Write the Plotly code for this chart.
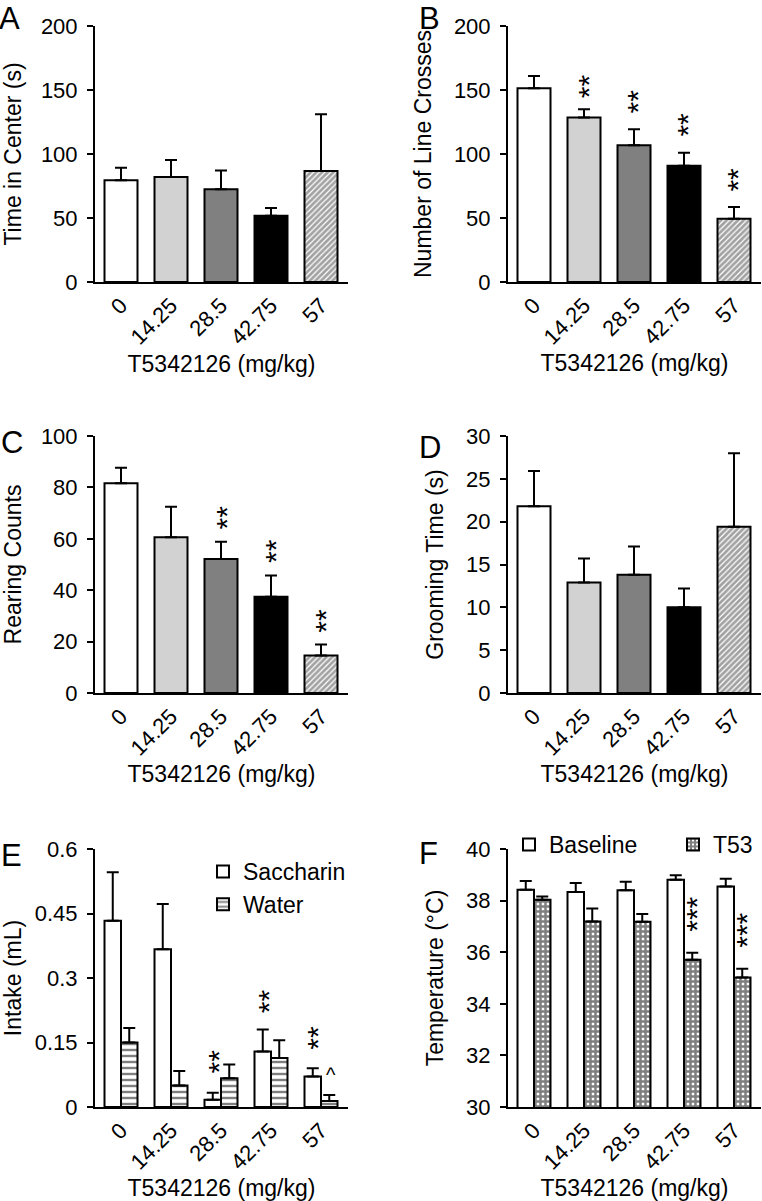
import plotly.graph_objects as go

# ---------------- data ----------------
doses = ["0", "14.25", "28.5", "42.75", "57"]
xlabel = "T5342126 (mg/kg)"

time_center = [79.5, 82.0, 72.5, 51.8, 86.7]
time_center_err = [9.8, 13.3, 14.6, 6.0, 44.3]

line_crosses = [151.3, 128.6, 106.8, 90.9, 49.5]
line_crosses_err = [9.7, 6.4, 12.5, 10.1, 9.1]
line_crosses_sig = ["", "**", "**", "**", "**"]
line_crosses_sig_y = [0, 153, 141, 123, 80]

rearing = [81.6, 60.6, 52.1, 37.5, 14.6]
rearing_err = [6.0, 11.9, 6.8, 8.2, 4.3]
rearing_sig = ["", "", "**", "**", "**"]
rearing_sig_y = [0, 0, 68.3, 55.3, 28.1]

grooming = [21.8, 12.9, 13.8, 10.0, 19.4]
grooming_err = [4.1, 2.8, 3.3, 2.2, 8.6]

saccharin = [0.433, 0.367, 0.017, 0.129, 0.071]
saccharin_err = [0.113, 0.105, 0.016, 0.051, 0.019]
water = [0.150, 0.050, 0.067, 0.114, 0.014]
water_err = [0.034, 0.034, 0.032, 0.041, 0.014]
saccharin_sig = ["", "", "**", "**", "**"]
saccharin_sig_y = [0, 0, 0.106, 0.246, 0.161]
water_sig = ["", "", "", "", "^"]
water_sig_y = [0, 0, 0, 0, 0.075]

baseline = [38.42, 38.33, 38.40, 38.81, 38.55]
baseline_err = [0.34, 0.35, 0.33, 0.17, 0.30]
t53 = [38.03, 37.19, 37.18, 35.71, 35.02]
t53_err = [0.13, 0.50, 0.30, 0.27, 0.34]
t53_sig = ["", "", "", "***", "***"]
t53_sig_y = [0, 0, 0, 37.45, 36.83]

# ---------------- styling ----------------
W, H = 762, 1201
FONT = "Liberation Sans, Arial, sans-serif"
TICK = 22
TITLE = 23
dose_colors = ["white", "#d2d2d2", "#808080", "black", "white"]
dose_patterns = ["", "", "", "", "/"]

fig = go.Figure()

def px_x(a, b):
    return [a / W, b / W]

def px_y(top, bottom):
    return [1 - bottom / H, 1 - top / H]

panels = [
    ("x", "y", (95, 348), (26, 282)),
    ("x2", "y2", (508, 761), (26, 282)),
    ("x3", "y3", (95, 348), (436, 693)),
    ("x4", "y4", (508, 761), (436, 693)),
    ("x5", "y5", (95, 348), (849, 1107)),
    ("x6", "y6", (508, 761), (849, 1107)),
]

def err(vals):
    return dict(type="data", array=vals, arrayminus=[0] * len(vals), symmetric=False,
                color="black", thickness=2, width=6)

single = [
    (time_center, time_center_err),
    (line_crosses, line_crosses_err),
    (rearing, rearing_err),
    (grooming, grooming_err),
]

for i, (vals, e) in enumerate(single):
    xa, ya = panels[i][0], panels[i][1]
    fig.add_trace(go.Bar(
        x=doses, y=vals, xaxis=xa, yaxis=ya, showlegend=False,
        marker=dict(color=dose_colors, line=dict(color="black", width=2),
                    pattern=dict(shape=dose_patterns, fgcolor="black", bgcolor="white",
                                 size=4, solidity=0.7)),
        error_y=err(e),
    ))

# Panel E: saccharin / water
fig.add_trace(go.Bar(
    x=doses, y=saccharin, name="Saccharin", xaxis="x5", yaxis="y5",
    marker=dict(color="white", line=dict(color="black", width=2)),
    error_y=err(saccharin_err), legend="legend",
))
fig.add_trace(go.Bar(
    x=doses, y=water, name="Water", xaxis="x5", yaxis="y5",
    marker=dict(color="white", line=dict(color="black", width=2),
                pattern=dict(shape="-", fgcolor="black", bgcolor="white", size=6, solidity=0.4)),
    error_y=err(water_err), legend="legend",
))

# Panel F: temperature
fig.add_trace(go.Bar(
    x=doses, y=baseline, name="Baseline", xaxis="x6", yaxis="y6",
    marker=dict(color="white", line=dict(color="black", width=2)),
    error_y=err(baseline_err), legend="legend2",
))
fig.add_trace(go.Bar(
    x=doses, y=t53, name="T53", xaxis="x6", yaxis="y6",
    marker=dict(color="white", line=dict(color="black", width=2),
                pattern=dict(shape="+", fgcolor="black", bgcolor="white", size=5, solidity=0.75)),
    error_y=err(t53_err), legend="legend3",
))

ytitles = ["Time in Center (s)", "Number of Line Crosses", "Rearing Counts",
           "Grooming Time (s)", "Intake (mL)", "Temperature (°C)"]
yranges = [[0, 200], [0, 200], [0, 100], [0, 30], [0, 0.6], [30, 40]]
ydticks = [50, 50, 20, 5, 0.15, 2]
xstandoff = [7, 2, 0, 4, 7, 7]

layout = dict(
    width=W, height=H,
    margin=dict(l=0, r=0, t=0, b=0, autoexpand=False),
    paper_bgcolor="white", plot_bgcolor="white",
    font=dict(family=FONT, size=TICK, color="black"),
    barmode="group", bargap=0.34, bargroupgap=0,
)

for k, (xa, ya, xd, yd) in enumerate(panels):
    xkey = "xaxis" if xa == "x" else "xaxis" + xa[1:]
    ykey = "yaxis" if ya == "y" else "yaxis" + ya[1:]
    layout[xkey] = dict(
        domain=px_x(*xd), anchor=ya, type="category", automargin=False,
        range=[-0.52, 4.54], showline=True, linecolor="black", linewidth=2,
        ticks="", tickangle=-45, showgrid=False, zeroline=False,
        tickfont=dict(size=TICK),
        title=dict(text=xlabel, font=dict(size=TITLE), standoff=xstandoff[k]),
    )
    layout[ykey] = dict(
        domain=px_y(*yd), anchor=xa, range=yranges[k], dtick=ydticks[k], tick0=yranges[k][0],
        automargin=False,
        showline=True, linecolor="black", linewidth=2, ticks="outside", ticklen=6,
        tickwidth=2, tickcolor="black", showgrid=False, zeroline=False,
        tickfont=dict(size=TICK), ticklabelstandoff=5,
        title=dict(text=ytitles[k], font=dict(size=TITLE), standoff=16),
    )

layout["legend"] = dict(x=203 / W, y=1 - 850 / H, xanchor="left", yanchor="top",
                        font=dict(size=TITLE), bgcolor="rgba(0,0,0,0)", tracegroupgap=0)
layout["legend2"] = dict(x=509 / W, y=1 - 823 / H, xanchor="left", yanchor="top",
                         font=dict(size=TITLE), bgcolor="rgba(0,0,0,0)")
layout["legend3"] = dict(x=673 / W, y=1 - 823 / H, xanchor="left", yanchor="top",
                         font=dict(size=TITLE), bgcolor="rgba(0,0,0,0)")

annotations = []
for letter, (lx, ly) in zip("ABCDEF", [(-3, -1), (417, -1), (-1, 423), (417, 428), (-1, 836), (417, 834)]):
    annotations.append(dict(text=letter, x=lx / W, y=1 - ly / H, xref="paper", yref="paper",
                            xanchor="left", yanchor="top", showarrow=False,
                            font=dict(size=31, family=FONT)))

def add_sig(labels, ys, xa, ya, xshift=0, angle=-90, size=30):
    for idx, (s, yv) in enumerate(zip(labels, ys)):
        if s:
            annotations.append(dict(text=s, x=idx, y=yv, xref=xa, yref=ya, showarrow=False,
                                    textangle=angle, xshift=xshift,
                                    font=dict(size=size, family=FONT)))

add_sig(line_crosses_sig, line_crosses_sig_y, "x2", "y2", xshift=4)
add_sig(rearing_sig, rearing_sig_y, "x3", "y3", xshift=5)
add_sig(saccharin_sig, saccharin_sig_y, "x5", "y5", xshift=-3)
add_sig(water_sig, water_sig_y, "x5", "y5", xshift=10, angle=0, size=20)
add_sig(t53_sig, t53_sig_y, "x6", "y6", xshift=13)

layout["annotations"] = annotations
fig.update_layout(**layout)
fig.write_html("out.html", config={"displayModeBar": False},
               post_script="document.body.style.margin='0';document.body.style.overflow='hidden';")
